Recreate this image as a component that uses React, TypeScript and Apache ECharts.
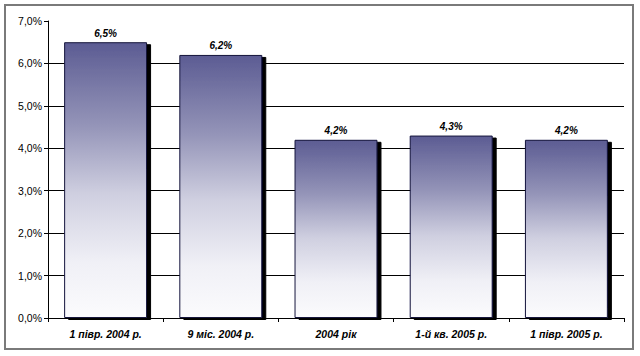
import React, { useEffect, useRef } from "react";
import * as echarts from "echarts";

const categories = ["1 півр. 2004 р.", "9 міс. 2004 р.", "2004 рік", "1-й кв. 2005 р.", "1 півр. 2005 р."];
const values = [6.5, 6.2, 4.2, 4.3, 4.2];
const yTicks = { min: 0, max: 7, interval: 1 };

const fmt = (v: number) => v.toFixed(1).replace(".", ",") + "%";

export default function App() {
  const ref = useRef<HTMLDivElement>(null);
  useEffect(() => {
    if (!ref.current) return;
    const chart = echarts.init(ref.current, undefined, { renderer: "svg" });
    chart.setOption({
      animation: false,
      backgroundColor: "#ffffff",
      graphic: [
        {
          type: "rect",
          shape: { x: 5, y: 5, width: 628, height: 344 },
          style: { fill: "none", stroke: "#7a7a7a", lineWidth: 2 },
          z: -1,
        },
      ],
      grid: { left: 48, right: 16, top: 21, bottom: 38 },
      xAxis: {
        type: "category",
        data: categories,
        axisLine: { show: true, lineStyle: { color: "#000", width: 1 } },
        axisTick: { show: true, length: 4, lineStyle: { color: "#000" } },
        axisLabel: {
          color: "#000",
          fontFamily: "Liberation Sans, Arial, sans-serif",
          fontSize: 10.5,
          fontWeight: "bold",
          fontStyle: "italic",
          margin: 10,
        },
      },
      yAxis: {
        type: "value",
        min: yTicks.min,
        max: yTicks.max,
        interval: yTicks.interval,
        axisLine: { show: true, lineStyle: { color: "#000", width: 1 } },
        axisTick: { show: true, length: 4, lineStyle: { color: "#000" } },
        axisLabel: {
          color: "#000",
          fontFamily: "Liberation Sans, Arial, sans-serif",
          fontSize: 10.5,
          margin: 6,
          formatter: (v: number) => fmt(v),
        },
        splitLine: { show: true, showMaxLine: false, lineStyle: { color: "#000", width: 1 } },
      },
      series: [
        {
          type: "bar",
          data: values,
          barWidth: "72%",
          itemStyle: {
            color: new echarts.graphic.LinearGradient(0, 0, 0, 1, [
              { offset: 0, color: "#5c5c93" },
              { offset: 0.3, color: "#9494b8" },
              { offset: 0.55, color: "#cfcfe0" },
              { offset: 0.8, color: "#f0f0f6" },
              { offset: 1, color: "#fbfbfd" },
            ]),
            borderColor: "#14143c",
            borderWidth: 1,
            shadowColor: "#000",
            shadowOffsetX: 4,
            shadowOffsetY: 2,
            shadowBlur: 0,
          },
          label: {
            show: true,
            position: "top",
            distance: 4,
            color: "#000",
            fontFamily: "Liberation Sans, Arial, sans-serif",
            fontSize: 10,
            fontWeight: "bold",
            fontStyle: "italic",
            formatter: (p: any) => fmt(p.value),
          },
        },
      ],
    });
    return () => chart.dispose();
  }, []);
  return (
    <div
      ref={ref}
      style={{ position: "fixed", left: 0, top: 0, width: 640, height: 356 }}
    />
  );
}
